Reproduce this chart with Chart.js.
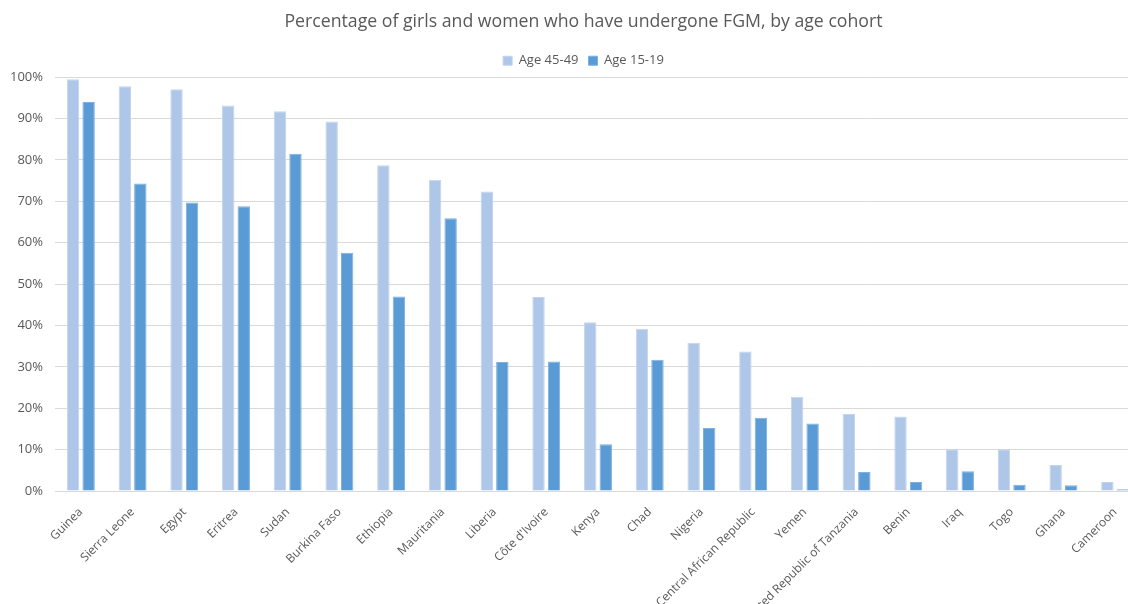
<!DOCTYPE html>
<html>
<head>
<meta charset="utf-8">
<script src="https://cdn.jsdelivr.net/npm/chart.js@4"></script>
<style>
  html, body { margin: 0; padding: 0; background: #fff; overflow: hidden; }
  /* the original chart is cropped on the right, so the canvas is wider than the window */
  #wrap { width: 1141px; height: 604px; }
</style>
</head>
<body>
<div id="wrap"><canvas id="myChart"></canvas></div>
<script>
const countries = [
    'Guinea', 'Sierra Leone', 'Egypt', 'Eritrea', 'Sudan', 'Burkina Faso',
    'Ethiopia', 'Mauritania', 'Liberia', 'Côte d\'Ivoire', 'Kenya', 'Chad',
    'Nigeria', 'Central African Republic', 'Yemen', 'United Republic of Tanzania',
    'Benin', 'Iraq', 'Togo', 'Ghana', 'Cameroon'
];
const age4549 = [99.5, 97.8, 97.1, 93.2, 91.8, 89.3, 78.7, 75.2, 72.4, 46.9, 40.8,
    39.2, 35.8, 33.7, 22.8, 18.6, 18.0, 10.1, 10.1, 6.3, 2.2];
const age1519 = [94.0, 74.3, 69.7, 68.8, 81.5, 57.6, 47.0, 65.9, 31.2, 31.3, 11.3,
    31.7, 15.2, 17.7, 16.3, 4.6, 2.2, 4.8, 1.5, 1.4, 0.4];
const yTicks = [0, 10, 20, 30, 40, 50, 60, 70, 80, 90, 100];

const grey = '#595959';

// nudge title + legend a bit right, the original centres them off the canvas middle
const shiftHeader = {
    id: 'shiftHeader',
    afterLayout(chart) {
        chart.titleBlock.left += 26;
        chart.legend.left += 26;
    }
};

const data = {
    labels: countries,
    datasets: [{
        label: 'Age 45-49',
        data: age4549,
        backgroundColor: '#aec6e7',
        borderColor: '#c3d5ee',
        borderWidth: 1
    }, {
        label: 'Age 15-19',
        data: age1519,
        backgroundColor: '#5b9bd5',
        borderColor: '#7cb0e0',
        borderWidth: 1
    }]
};

const config = {
    type: 'bar',
    data: data,
    plugins: [shiftHeader],
    options: {
        responsive: true,
        maintainAspectRatio: false,
        animation: false,
        layout: { padding: { left: 0, right: 0, top: 11, bottom: 0 } },
        datasets: {
            bar: { categoryPercentage: 0.6, barPercentage: 0.8 }
        },
        plugins: {
            title: {
                display: true,
                text: 'Percentage of girls and women who have undergone FGM, by age cohort',
                color: grey,
                font: { family: 'Open Sans', size: 17.7, weight: 'normal' },
                padding: { top: 0, bottom: 12 }
            },
            legend: {
                position: 'top',
                labels: {
                    color: grey,
                    font: { family: 'Open Sans', size: 13 },
                    boxWidth: 9,
                    boxHeight: 9,
                    padding: 10
                }
            },
            tooltip: { enabled: false }
        },
        scales: {
            x: {
                grid: { display: false },
                border: { display: true, color: '#d9d9d9' },
                ticks: {
                    color: grey,
                    font: { family: 'Open Sans', size: 12 },
                    maxRotation: 45,
                    minRotation: 45,
                    autoSkip: false,
                    padding: 6
                },
                afterFit: (scale) => { scale.height = 113; }
            },
            y: {
                min: 0,
                max: 100,
                afterBuildTicks: (scale) => {
                    scale.ticks = yTicks.map(v => ({ value: v }));
                },
                grid: { color: '#d9d9d9', drawTicks: false },
                border: { display: false },
                ticks: {
                    color: grey,
                    font: { family: 'Open Sans', size: 13 },
                    padding: 12,
                    callback: (v) => v + '%'
                },
                afterFit: (scale) => { scale.width = 55; }
            }
        }
    }
};

let myChart = new Chart(
    document.getElementById('myChart'),
    config
);
</script>
</body>
</html>
